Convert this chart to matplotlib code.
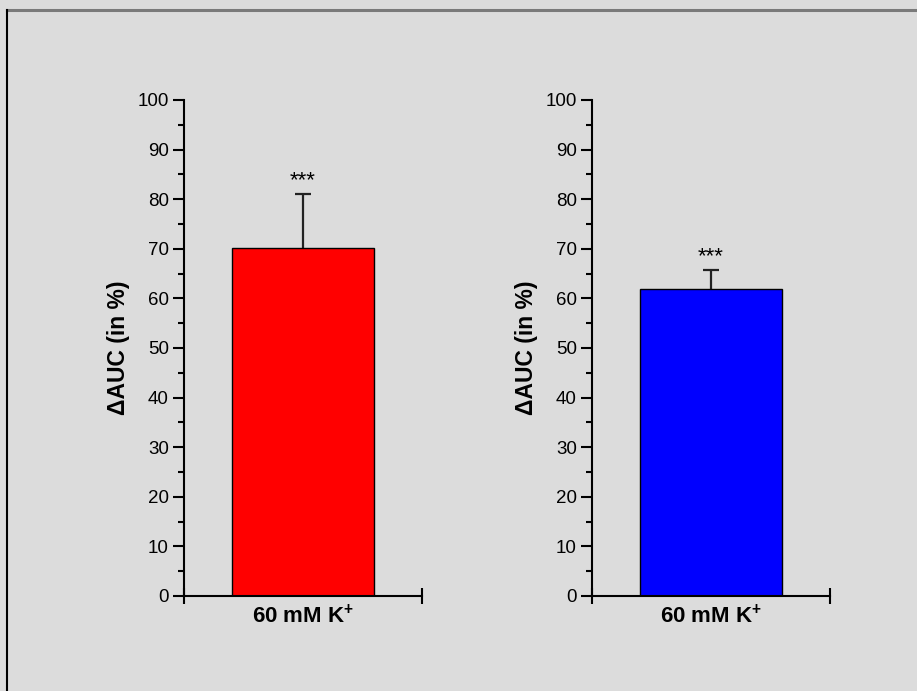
"""Two single-bar panels: change in AUC after 60 mM K+."""
import matplotlib
matplotlib.use("Agg")
import matplotlib.pyplot as plt
from matplotlib.lines import Line2D
from matplotlib.ticker import MultipleLocator

plt.rcParams["font.family"] = ["Liberation Sans", "DejaVu Sans"]
plt.rcParams["mathtext.fontset"] = "custom"
plt.rcParams["mathtext.rm"] = "Liberation Sans"
plt.rcParams["mathtext.bf"] = "Liberation Sans:bold"

CATEGORY = r"60 mM K$^{\mathbf{+}}$"
MEANS = [70.1, 61.8]
ERRORS = [11.0, 3.9]
COLORS = ["#ff0000", "#0000ff"]
SIGNIF = ["***", "***"]
Y_LABEL = "\u0394AUC (in %)"

BG = "#dcdcdc"
BAR_X = 0.5
BAR_W = 0.6
CAP_HALF = 0.034

fig = plt.figure(figsize=(9.17, 6.91), dpi=100, facecolor=BG)

# figure frame (top grey, left black)
fig.add_artist(Line2D([0.0076, 1.0], [0.9855, 0.9855], color="#7a7a7a", lw=2.2,
                      transform=fig.transFigure))
fig.add_artist(Line2D([0.0076, 0.0076], [0.0, 0.9855], color="black", lw=1.5,
                      transform=fig.transFigure))

lefts = [0.2007, 0.6456]
for i in range(2):
    ax = fig.add_axes([lefts[i], 0.1375, 0.2595, 0.7178])
    ax.set_facecolor(BG)
    ax.bar([BAR_X], [MEANS[i]], width=BAR_W, color=COLORS[i], edgecolor="black",
           linewidth=1.0, zorder=2)
    top = MEANS[i] + ERRORS[i]
    # upper-only error bar
    ax.vlines(BAR_X, MEANS[i], top, color="#222222", lw=1.6, zorder=1)
    ax.hlines(top, BAR_X - CAP_HALF, BAR_X + CAP_HALF, color="#222222", lw=1.6, zorder=1)
    ax.annotate(SIGNIF[i], (BAR_X, top), xytext=(0, 2),
                textcoords="offset points", ha="center", va="bottom", fontsize=16)

    ax.set_xlim(0, 1)
    ax.set_ylim(0, 100)
    ax.yaxis.set_major_locator(MultipleLocator(10))
    ax.yaxis.set_minor_locator(MultipleLocator(5))
    ax.set_xticks([0, 1])
    ax.set_xticklabels([])
    ax.tick_params(axis="x", direction="inout", length=12, width=1.5)
    ax.tick_params(axis="y", which="major", direction="out", length=8, width=1.5,
                   labelsize=13.5, pad=3)
    ax.tick_params(axis="y", which="minor", direction="out", length=4, width=1.5)

    for s in ["top", "right"]:
        ax.spines[s].set_visible(False)
    for s in ["left", "bottom"]:
        ax.spines[s].set_linewidth(1.5)

    ax.set_xlabel(CATEGORY, fontsize=16, fontweight="bold", labelpad=-3)
    ax.set_ylabel(Y_LABEL, fontsize=16.5, fontweight="bold", labelpad=5)

fig.savefig("out.png", dpi=100, facecolor=BG)
